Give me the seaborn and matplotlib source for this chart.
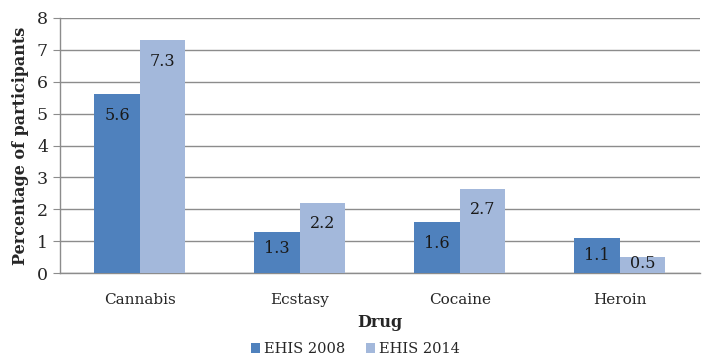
import matplotlib
matplotlib.use("Agg")
import matplotlib.pyplot as plt
import seaborn as sns
import pandas as pd

drugs = ["Cannabis", "Ecstasy", "Cocaine", "Heroin"]
ehis_2008 = [5.6, 1.3, 1.6, 1.1]
ehis_2014 = [7.3, 2.2, 2.65, 0.5]
labels_2008 = ["5.6", "1.3", "1.6", "1.1"]
labels_2014 = ["7.3", "2.2", "2.7", "0.5"]
series = ["EHIS 2008", "EHIS 2014"]

df = pd.DataFrame({
    "Drug": drugs * 2,
    "Value": ehis_2008 + ehis_2014,
    "Series": [series[0]] * 4 + [series[1]] * 4,
})

sns.set_style("white")
plt.rcParams["font.family"] = ["DejaVu Serif"]

fig = plt.figure(figsize=(7.04, 3.58), dpi=100)
ax = fig.add_axes([0.085, 0.237, 0.909, 0.713])

palette = {"EHIS 2008": "#4F81BD", "EHIS 2014": "#A3B8DB"}
sns.barplot(data=df, x="Drug", y="Value", hue="Series", palette=palette,
            width=0.57, gap=0, saturation=1, ax=ax, legend=True, zorder=3,
            linewidth=0, edgecolor="none")

for cont, labs in zip(ax.containers, [labels_2008, labels_2014]):
    for bar, lab in zip(cont, labs):
        h = bar.get_height()
        pad = -21 if h >= 1.5 else (-17 if h >= 1 else -6)
        ax.annotate(lab, (bar.get_x() + bar.get_width() / 2, h),
                    xytext=(0, pad), textcoords="offset pixels",
                    ha="center", va="center", fontsize=11.5, color="#1a1a1a", zorder=5)

ax.set_ylim(0, 8)
ax.set_xlim(-0.5, 3.5)
ax.set_yticks(range(0, 9))
ax.yaxis.grid(True, color="#8c8c8c", linewidth=1, zorder=0)
ax.set_axisbelow(True)
for s in ["top", "right"]:
    ax.spines[s].set_visible(False)
for s in ["left", "bottom"]:
    ax.spines[s].set_color("#8c8c8c")
    ax.spines[s].set_linewidth(1)

ax.set_xticks([-0.5, 0.5, 1.5, 2.5, 3.5], minor=True)
ax.tick_params(axis="x", which="major", length=0, labelsize=11, pad=14)
ax.tick_params(axis="x", which="minor", length=5, color="#8c8c8c", direction="out")
ax.tick_params(axis="y", length=5, color="#8c8c8c", direction="out", labelsize=12.5, left=True)

ax.set_xlabel("Drug", fontsize=11.5, fontweight="bold", labelpad=5)
ax.set_ylabel("Percentage of participants", fontsize=11.5, fontweight="bold", labelpad=6)

handles, labels = ax.get_legend_handles_labels()
ax.get_legend().remove()
fig.legend(handles, labels, loc="center", bbox_to_anchor=(0.505, 0.025), ncol=2, frameon=False,
           fontsize=10.5, handlelength=0.6, handleheight=0.6, handletextpad=0.3,
           columnspacing=1.4)

fig.savefig("out.png", dpi=100)
